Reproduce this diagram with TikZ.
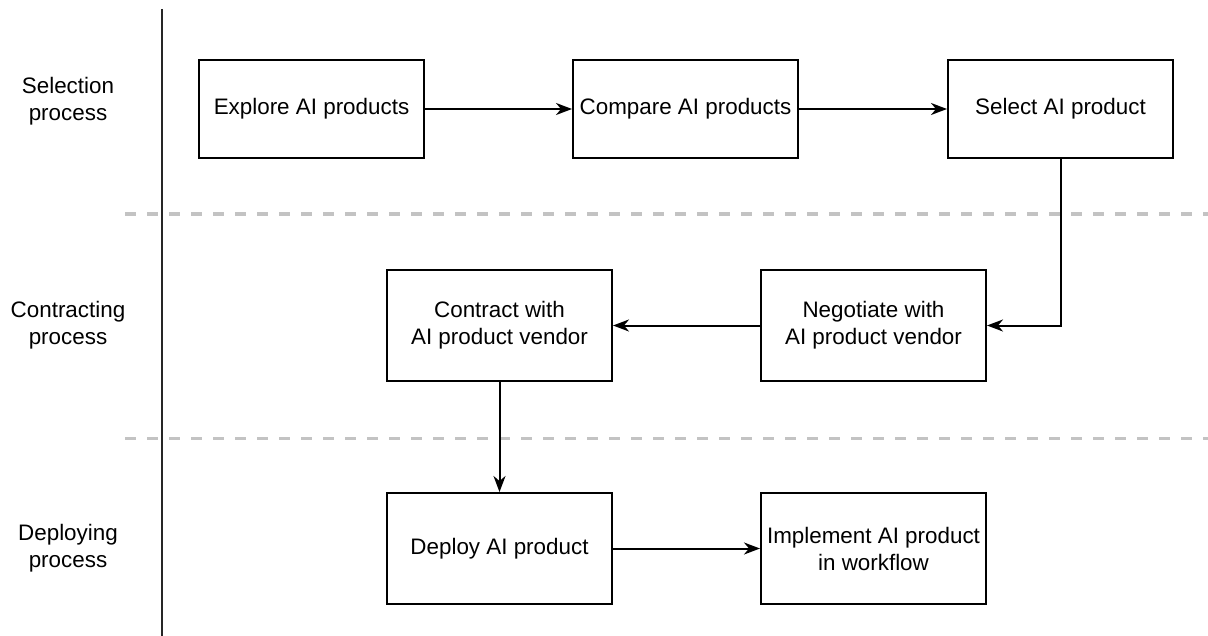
\documentclass[tikz,border=0pt]{standalone}
\usepackage{fontspec}
\setmainfont{Liberation Sans}
\usetikzlibrary{arrows.meta}
\definecolor{lanegray}{RGB}{195,195,195}
\begin{document}
\begin{tikzpicture}[x=0.5pt,y=-0.5pt,
  every node/.style={font=\fontsize{11.2}{13.5}\selectfont, align=center, text=black},
  stepbox/.style={draw=black, line width=1pt, rectangle, minimum width=112.5pt, inner sep=0pt},
  toprow/.style={stepbox, minimum height=49pt},
  lowrow/.style={stepbox, minimum height=55.5pt},
  flow/.style={draw=black, line width=1pt, -{Stealth[length=8pt,width=6pt,inset=2.5pt]}},
  lanesep/.style={draw=lanegray, line width=1.5pt, dash pattern=on 5.5pt off 5.5pt},
  lanelabel/.style={inner sep=0pt}]
  \useasboundingbox (0,0) rectangle (1208,636);

  % lane separators
  \coordinate (sepA1) at (125,214);
  \coordinate (sepA2) at (1208,214);
  \coordinate (sepB1) at (125,438);
  \coordinate (sepB2) at (1208,438);
  \draw[lanesep] (sepA1) -- (sepA2);
  \draw[lanesep] (sepB1) -- (sepB2);

  % header divider
  \coordinate (divtop) at (162,9);
  \coordinate (divbot) at (162,636);
  \draw[line width=1pt, black!85] (divtop) -- (divbot);

  % lane titles
  \node[lanelabel] (lselect) at (68,101) {Selection\\process};
  \node[lanelabel] (lcontract) at (68,325) {Contracting\\process};
  \node[lanelabel] (ldeploy) at (68,548) {Deploying\\process};

  % steps
  \node[toprow] (explore) at (311.5,109) {Explore AI products};
  \node[toprow] (compare) at (685.5,109) {Compare AI products};
  \node[toprow] (select) at (1060.5,109) {Select AI product};
  \node[lowrow] (negotiate) at (873.5,325.5) {Negotiate with\\AI product vendor};
  \node[lowrow] (contract) at (499.5,325.5) {Contract with\\AI product vendor};
  \node[lowrow] (deploy) at (499.5,548.5) {Deploy AI product};
  \node[lowrow] (implement) at (873.5,548.5) {Implement AI product\\in workflow};

  % connectors
  \draw[flow] (explore) -- (compare);
  \draw[flow] (compare) -- (select);
  \draw[flow] (select.south) |- (negotiate.east);
  \draw[flow] (negotiate) -- (contract);
  \draw[flow] (contract) -- (deploy);
  \draw[flow] (deploy) -- (implement);
\end{tikzpicture}
\end{document}
